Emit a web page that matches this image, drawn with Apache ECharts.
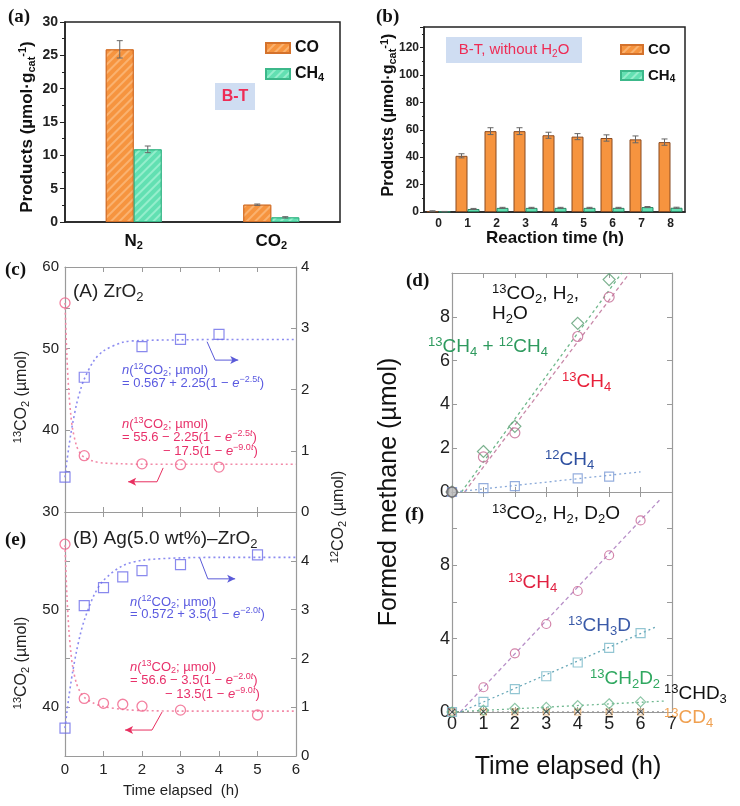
<!DOCTYPE html>
<html><head><meta charset="utf-8">
<script src="https://cdn.jsdelivr.net/npm/echarts@6/dist/echarts.min.js"></script>
<style>html,body{margin:0;padding:0;background:#fff}#c{width:740px;height:806px}#err{position:absolute;left:0;top:0;font:12px monospace;color:red;white-space:pre-wrap;width:740px}</style>
</head><body><div id="c"></div><div id="err"></div><script>
// ---------- data ----------
// (a)
const aCats = ['N2', 'CO2'];
const aCO = [25.9, 2.6];
const aCOErr = [1.3, 0.1];
const aCH4 = [10.9, 0.7];
const aCH4Err = [0.5, 0.1];
// (b)
const bCats = ['0', '1', '2', '3', '4', '5', '6', '7', '8'];
const bCO = [0.6, 41, 59, 59, 56, 55, 54, 53, 51];
const bCOErr = [0.3, 1.5, 2.5, 2.5, 2.2, 2.2, 2.3, 2.5, 2.3];
const bCH4 = [0.3, 2.2, 3.0, 3.0, 3.0, 3.0, 3.0, 3.6, 3.1];
const bCH4Err = [0.1, 0.4, 0.4, 0.4, 0.4, 0.4, 0.4, 0.4, 0.4];
// (c) ZrO2
const cT = [0, 0.5, 2, 3, 4];
const c13CO2 = [55.6, 36.9, 35.9, 35.8, 35.5];
const c12CO2 = [0.57, 2.2, 2.7, 2.82, 2.9];
const cFitT = [0, 0.05, 0.1, 0.15, 0.2, 0.3, 0.4, 0.5, 0.75, 1, 1.5, 2, 3, 4, 6];
const cFit13 = [55.6, 49.0, 44.7, 41.9, 40.1, 38.1, 37.15, 36.7, 36.2, 36.0, 35.9, 35.85, 35.85, 35.85, 35.85];
const cFit12 = [0.567, 0.83, 1.06, 1.27, 1.45, 1.76, 1.99, 2.17, 2.47, 2.63, 2.77, 2.8, 2.81, 2.817, 2.817];
const cArrow12 = [[3.69, 2.78], [3.9, 2.48], [4.5, 2.48]];
const cArrow13 = [[2.55, 35.4], [2.39, 33.7], [1.64, 33.7]];
// (e) Ag(5.0 wt%)-ZrO2
const eT = [0, 0.5, 1, 1.5, 2, 3, 5];
const e13CO2 = [56.7, 40.9, 40.4, 40.3, 40.1, 39.7, 39.2];
const e12CO2 = [0.57, 3.08, 3.45, 3.67, 3.8, 3.92, 4.12];
const eFitT = [0, 0.05, 0.1, 0.15, 0.2, 0.3, 0.4, 0.5, 0.75, 1, 1.5, 2, 3, 4, 6];
const eFit13 = [56.6, 51.4, 47.97, 45.7, 44.15, 42.4, 41.54, 41.0, 40.4, 40.07, 39.77, 39.66, 39.6, 39.6, 39.6];
const eFit12 = [0.572, 0.905, 1.21, 1.48, 1.73, 2.15, 2.5, 2.78, 3.29, 3.6, 3.9, 4.01, 4.06, 4.07, 4.07];
const eArrow12 = [[3.5, 4.06], [3.71, 3.63], [4.42, 3.63]];
const eArrow13 = [[2.52, 39.5], [2.26, 37.66], [1.56, 37.66]];
// (d) 13CO2, H2, H2O
const dT = [0, 1, 2, 4, 5];
const dTotal = [0, 1.85, 3.0, 7.7, 9.7];
const d13CH4 = [0, 1.6, 2.7, 7.1, 8.9];
const d12CH4 = [0, 0.18, 0.27, 0.62, 0.7];
const dFitTotal = [[0.3, 0], [5.4, 10]];
const dFit13 = [[0.4, 0], [5.65, 10]];
const dFit12 = [[0.1, 0], [6, 0.92]];
// (f) 13CO2, H2, D2O
const fT = [0, 1, 2, 3, 4, 5, 6];
const f13CH4 = [0, 1.35, 3.2, 4.8, 6.6, 8.55, 10.45];
const f13CH3D = [0, 0.55, 1.25, 1.95, 2.7, 3.5, 4.3];
const f13CH2D2 = [0, 0.1, 0.2, 0.25, 0.35, 0.45, 0.55];
const f13CHD3 = [0, 0.02, 0.02, 0.02, 0.02, 0.02, 0.02];
const f13CD4 = [0, 0, 0, 0, 0, 0, 0];
const fFit13CH4 = [[0.26, 0], [6.6, 11.55]];
const fFit13CH3D = [[0.27, 0], [6.5, 4.65]];
const fFit13CH2D2 = [[0, 0], [6.8, 0.6]];
const fFit13CHD3 = [[0, 0], [6.8, 0.01]];

// ---------- helpers ----------
const FONT = '"Liberation Sans", Arial, Helvetica, sans-serif';
const SERIF = '"Liberation Serif", "Times New Roman", serif';
const zip = (xs, ys) => xs.map((x, i) => [x, ys[i]]);

function richSet(size, color, weight) {
  const base = {fontFamily: FONT, fontWeight: weight || 'normal', color: color, fill: color};
  const s = Math.max(8, Math.round(size * 0.66));
  return {
    n: Object.assign({}, base, {fontSize: size, lineHeight: Math.round(size * 1.2)}),
    i: Object.assign({}, base, {fontSize: size, lineHeight: Math.round(size * 1.2), fontStyle: 'italic'}),
    p: Object.assign({}, base, {fontSize: s, lineHeight: Math.round(size * 0.6), verticalAlign: 'top'}),
    pi: Object.assign({}, base, {fontSize: s, lineHeight: Math.round(size * 0.6), verticalAlign: 'top', fontStyle: 'italic'}),
    b: Object.assign({}, base, {fontSize: s, lineHeight: Math.round(size * 0.6), verticalAlign: 'bottom'})
  };
}
function T(x, y, text, size, color, opts) {
  opts = opts || {};
  const al = opts.align || 'left';
  return {
    type: 'text', x: x, y: y, rotation: opts.rot || 0, z: 100,
    style: {
      text: text, rich: richSet(size, color, opts.weight),
      fill: color, fontSize: size, fontFamily: opts.family || FONT, fontWeight: opts.weight || 'normal',
      align: al, verticalAlign: 'middle', textAlign: al, textVerticalAlign: 'middle'
    }
  };
}
function errBars(offset) {
  return function (params, api) {
    const x = api.value(0), v = api.value(1), e = api.value(2);
    const top = api.coord([x, v + e]), bot = api.coord([x, v - e]);
    const cx = top[0] + offset;
    const st = {stroke: '#666', lineWidth: 1};
    return {type: 'group', children: [
      {type: 'line', shape: {x1: cx, y1: top[1], x2: cx, y2: bot[1]}, style: st},
      {type: 'line', shape: {x1: cx - 3, y1: top[1], x2: cx + 3, y2: top[1]}, style: st},
      {type: 'line', shape: {x1: cx - 3, y1: bot[1], x2: cx + 3, y2: bot[1]}, style: st}
    ]};
  };
}
// arrow annotation as a line series; last point carries an arrow head
function arrow(xi, yi, pts, color, rot) {
  return {type: 'line', xAxisIndex: xi, yAxisIndex: yi, symbol: 'none', z: 6,
    data: pts.map((p, i) => i === pts.length - 1 ? {value: p, symbol: 'arrow', symbolSize: [6, 8], symbolRotate: rot, itemStyle: {color: color}} : {value: p}),
    lineStyle: {color: color, width: 1}};
}

const GRAY = '#9a9a9a';
function valAxis(grid, min, max, interval, opts) {
  opts = opts || {};
  return Object.assign({
    type: 'value', gridIndex: grid, min: min, max: max, interval: interval,
    axisLine: {show: true, onZero: false, lineStyle: {color: GRAY, width: 1.2}},
    axisTick: {show: true, inside: true, length: 5, lineStyle: {color: GRAY}},
    splitLine: {show: false},
    axisLabel: {show: false}
  }, opts);
}
function lbl(size, fmt, margin) {
  const o = {show: true, fontSize: size, color: '#222', fontFamily: FONT, margin: margin || 5};
  if (fmt) o.formatter = fmt;
  return o;
}

const CO_C = '#f6943f', CO_B = '#d4722c', CH_C = '#62e0b2', CH_B = '#3cb88a';
const hatchO = {symbol: 'rect', symbolSize: 1, dashArrayX: [1, 0], dashArrayY: [2, 4], rotation: -Math.PI / 4, color: 'rgba(255,215,170,0.45)'};
const hatchG = {symbol: 'rect', symbolSize: 1, dashArrayX: [1, 0], dashArrayY: [2, 4], rotation: -Math.PI / 4, color: 'rgba(210,255,235,0.45)'};
const hollow = (c, w) => ({color: 'rgba(255,255,255,0)', borderColor: c, borderWidth: w || 1.2});

const bold16 = richSet(16, '#111', 'bold');

// axis index map: x: 0 a, 1 b, 2 c, 3 c-top, 4 e, 5 e-top, 6 d, 7 d-top, 8 f, 9 f-top
//                 y: 0 a, 1 b, 2 c-left, 3 c-right, 4 e-left, 5 e-right, 6 d, 7 d-right, 8 f, 9 f-right
const option = {
  animation: false,
  backgroundColor: '#fff',
  grid: [
    {left: 65, top: 22, width: 275, height: 200, show: true, borderColor: '#222', borderWidth: 1.5},
    {left: 424, top: 27, width: 261, height: 185, show: true, borderColor: '#222', borderWidth: 1.5},
    {left: 65, top: 267, width: 231, height: 245},
    {left: 65, top: 512, width: 231, height: 244},
    {left: 452, top: 273, width: 220, height: 219},
    {left: 452, top: 492, width: 220, height: 220}
  ],
  legend: [
    {data: ['CO', 'CH4'], orient: 'vertical', left: 260, top: 35, itemWidth: 24, itemHeight: 10, itemGap: 10,
      icon: 'rect', formatter: n => n === 'CH4' ? '{n|CH}{b|4}' : '{n|CO}',
      textStyle: {rich: bold16, fontSize: 16, fontWeight: 'bold'}},
    {data: ['CO', 'CH4'], orient: 'vertical', left: 615, top: 37, itemWidth: 22, itemHeight: 9, itemGap: 11,
      icon: 'rect', formatter: n => n === 'CH4' ? '{n|CH}{b|4}' : '{n|CO}',
      textStyle: {rich: richSet(15, '#111', 'bold'), fontSize: 15, fontWeight: 'bold'}}
  ],
  xAxis: [
    {type: 'category', gridIndex: 0, data: aCats,
      axisLine: {onZero: false, lineStyle: {color: '#222', width: 1.5}},
      axisTick: {alignWithLabel: true, length: 4, lineStyle: {color: '#222'}},
      axisLabel: {margin: 9, formatter: v => v === 'N2' ? '{n|N}{b|2}' : '{n|CO}{b|2}', rich: richSet(17, '#111', 'bold')}},
    {type: 'category', gridIndex: 1, data: bCats,
      axisLine: {onZero: false, lineStyle: {color: '#222', width: 1.5}},
      axisTick: {alignWithLabel: true, length: 4, lineStyle: {color: '#222'}},
      axisLabel: {margin: 6, fontSize: 12, fontWeight: 'bold', color: '#222', fontFamily: FONT}},
    valAxis(2, 0, 6, 1),
    valAxis(2, 0, 6, 1, {position: 'top'}),
    valAxis(3, 0, 6, 1, {axisLabel: lbl(15, null, 6)}),
    valAxis(3, 0, 6, 1, {position: 'top'}),
    valAxis(4, 0, 7, 1),
    valAxis(4, 0, 7, 1, {position: 'top'}),
    valAxis(5, 0, 7, 1, {axisLabel: lbl(18, null, 3)}),
    valAxis(5, 0, 7, 1, {position: 'top'})
  ],
  yAxis: [
    {type: 'value', gridIndex: 0, min: 0, max: 30, interval: 5,
      axisLine: {show: true, onZero: false, lineStyle: {color: '#222', width: 1.5}},
      axisTick: {show: true, length: 5, lineStyle: {color: '#222'}},
      minorTick: {show: true, splitNumber: 2, length: 3, lineStyle: {color: '#222'}},
      splitLine: {show: false},
      axisLabel: {fontSize: 14, fontWeight: 'bold', color: '#222', fontFamily: FONT, margin: 7}},
    {type: 'value', gridIndex: 1, min: 0, max: 135, interval: 20,
      axisLine: {show: true, onZero: false, lineStyle: {color: '#222', width: 1.5}},
      axisTick: {show: true, length: 4, lineStyle: {color: '#222'}},
      minorTick: {show: true, splitNumber: 2, length: 2, lineStyle: {color: '#222'}},
      splitLine: {show: false},
      axisLabel: {fontSize: 12, fontWeight: 'bold', color: '#222', fontFamily: FONT, margin: 5, showMaxLabel: false}},
    valAxis(2, 30, 60, 5, {axisLabel: lbl(15, v => v % 10 === 0 ? String(v) : '', 6)}),
    valAxis(2, 0, 4, 1, {position: 'right', axisLabel: lbl(15, null, 5)}),
    valAxis(3, 35, 60, 5, {axisLabel: lbl(15, v => (v % 10 === 0 && v < 60) ? String(v) : '', 6)}),
    valAxis(3, 0, 5, 1, {position: 'right', axisLabel: lbl(15, v => v < 5 ? String(v) : '', 5)}),
    valAxis(4, 0, 10, 2, {axisLabel: lbl(18, v => v < 10 ? String(v) : '', 2)}),
    valAxis(4, 0, 10, 2, {position: 'right'}),
    valAxis(5, 0, 12, 2, {axisLabel: lbl(18, v => (v % 4 === 0 && v < 12) ? String(v) : '', 2)}),
    valAxis(5, 0, 12, 2, {position: 'right'})
  ],
  series: [
    // (a)
    {name: 'CO', type: 'bar', xAxisIndex: 0, yAxisIndex: 0, data: aCO, barWidth: 28, barGap: '0%',
      itemStyle: {color: CO_C, borderColor: CO_B, borderWidth: 1, decal: hatchO}},
    {name: 'CH4', type: 'bar', xAxisIndex: 0, yAxisIndex: 0, data: aCH4, barWidth: 28, barGap: '0%',
      itemStyle: {color: CH_C, borderColor: CH_B, borderWidth: 1, decal: hatchG}},
    {type: 'custom', xAxisIndex: 0, yAxisIndex: 0, renderItem: errBars(-14), data: aCO.map((v, i) => [i, v, aCOErr[i]]), z: 5},
    {type: 'custom', xAxisIndex: 0, yAxisIndex: 0, renderItem: errBars(14), data: aCH4.map((v, i) => [i, v, aCH4Err[i]]), z: 5},
    // (b)
    {name: 'CO', type: 'bar', xAxisIndex: 1, yAxisIndex: 1, data: bCO, barWidth: 12, barGap: '0%',
      itemStyle: {color: CO_C, borderColor: '#8a4a20', borderWidth: 1}},
    {name: 'CH4', type: 'bar', xAxisIndex: 1, yAxisIndex: 1, data: bCH4, barWidth: 12, barGap: '0%',
      itemStyle: {color: CH_C, borderColor: '#2a8a66', borderWidth: 1}},
    {type: 'custom', xAxisIndex: 1, yAxisIndex: 1, renderItem: errBars(-6), data: bCO.map((v, i) => [i, v, bCOErr[i]]), z: 5},
    {type: 'custom', xAxisIndex: 1, yAxisIndex: 1, renderItem: errBars(6), data: bCH4.map((v, i) => [i, v, bCH4Err[i]]), z: 5},
    // (c)
    {type: 'line', xAxisIndex: 2, yAxisIndex: 2, data: zip(cFitT, cFit13), showSymbol: false, smooth: 0.3,
      lineStyle: {color: '#f28aa8', width: 1.6, type: [2, 3]}},
    {type: 'line', xAxisIndex: 2, yAxisIndex: 3, data: zip(cFitT, cFit12), showSymbol: false, smooth: 0.3,
      lineStyle: {color: '#8c8cf0', width: 1.6, type: [2, 3]}},
    {type: 'scatter', xAxisIndex: 2, yAxisIndex: 2, data: zip(cT, c13CO2), symbol: 'circle', symbolSize: 10, itemStyle: hollow('#f06088', 1.3), z: 4},
    {type: 'scatter', xAxisIndex: 2, yAxisIndex: 3, data: zip(cT, c12CO2), symbol: 'rect', symbolSize: 10, itemStyle: hollow('#6b6be8', 1.2), z: 4},
    arrow(2, 3, cArrow12, '#5a5ad8', -90),
    arrow(2, 2, cArrow13, '#e83060', 90),
    // (e)
    {type: 'line', xAxisIndex: 4, yAxisIndex: 4, data: zip(eFitT, eFit13), showSymbol: false, smooth: 0.3,
      lineStyle: {color: '#f28aa8', width: 1.6, type: [2, 3]}},
    {type: 'line', xAxisIndex: 4, yAxisIndex: 5, data: zip(eFitT, eFit12), showSymbol: false, smooth: 0.3,
      lineStyle: {color: '#8c8cf0', width: 1.6, type: [2, 3]}},
    {type: 'scatter', xAxisIndex: 4, yAxisIndex: 4, data: zip(eT, e13CO2), symbol: 'circle', symbolSize: 10, itemStyle: hollow('#f06088', 1.3), z: 4},
    {type: 'scatter', xAxisIndex: 4, yAxisIndex: 5, data: zip(eT, e12CO2), symbol: 'rect', symbolSize: 10, itemStyle: hollow('#6b6be8', 1.2), z: 4},
    arrow(4, 5, eArrow12, '#5a5ad8', -90),
    arrow(4, 4, eArrow13, '#e83060', 90),
    // (d)
    {type: 'line', xAxisIndex: 6, yAxisIndex: 6, data: dFitTotal, showSymbol: false, lineStyle: {color: '#70b88c', width: 1.3, type: [3, 3]}},
    {type: 'line', xAxisIndex: 6, yAxisIndex: 6, data: dFit13, showSymbol: false, lineStyle: {color: '#c888a8', width: 1.3, type: [4, 3]}},
    {type: 'line', xAxisIndex: 6, yAxisIndex: 6, data: dFit12, showSymbol: false, lineStyle: {color: '#88a8d8', width: 1.3, type: [2, 3]}},
    {type: 'scatter', xAxisIndex: 6, yAxisIndex: 6, data: zip(dT, dTotal), symbol: 'diamond', symbolSize: 12, itemStyle: hollow('#5a9e72', 1.2), z: 4},
    {type: 'scatter', xAxisIndex: 6, yAxisIndex: 6, data: zip(dT, d13CH4), symbol: 'circle', symbolSize: 10, itemStyle: hollow('#c46a94', 1.2), z: 4},
    {type: 'scatter', xAxisIndex: 6, yAxisIndex: 6, data: zip(dT, d12CH4), symbol: 'rect', symbolSize: 9, itemStyle: hollow('#7a9ad4', 1.2), z: 4},
    {type: 'scatter', xAxisIndex: 6, yAxisIndex: 6, data: [[dT[0], dTotal[0]]], symbol: 'circle', symbolSize: 10, itemStyle: {color: '#b8b8b8', borderColor: '#666', borderWidth: 1.5}, z: 6},
    // (f)
    {type: 'line', xAxisIndex: 8, yAxisIndex: 8, data: fFit13CH4, showSymbol: false, lineStyle: {color: '#b890c8', width: 1.3, type: [4, 3]}},
    {type: 'line', xAxisIndex: 8, yAxisIndex: 8, data: fFit13CH3D, showSymbol: false, lineStyle: {color: '#68a8b8', width: 1.3, type: [2, 3]}},
    {type: 'line', xAxisIndex: 8, yAxisIndex: 8, data: fFit13CH2D2, showSymbol: false, lineStyle: {color: '#70b890', width: 1.3, type: [2, 3]}},
    {type: 'line', xAxisIndex: 8, yAxisIndex: 8, data: fFit13CHD3, showSymbol: false, lineStyle: {color: '#888', width: 1, type: [2, 3]}},
    {type: 'scatter', xAxisIndex: 8, yAxisIndex: 8, data: zip(fT, f13CD4), symbol: 'rect', symbolSize: 6, itemStyle: hollow('#e8b070', 1.2), z: 3},
    {type: 'scatter', xAxisIndex: 8, yAxisIndex: 8, data: zip(fT, f13CH4), symbol: 'circle', symbolSize: 9, itemStyle: hollow('#c86494', 1.2), z: 4},
    {type: 'scatter', xAxisIndex: 8, yAxisIndex: 8, data: zip(fT, f13CH3D), symbol: 'rect', symbolSize: 9, itemStyle: hollow('#78b8c8', 1.2), z: 4},
    {type: 'scatter', xAxisIndex: 8, yAxisIndex: 8, data: zip(fT, f13CH2D2), symbol: 'diamond', symbolSize: 10, itemStyle: hollow('#70b890', 1.2), z: 4},
    {type: 'scatter', xAxisIndex: 8, yAxisIndex: 8, data: zip(fT, f13CHD3), symbol: 'path://M0,1L1,0L5,4L9,0L10,1L6,5L10,9L9,10L5,6L1,10L0,9L4,5Z', symbolSize: 7, itemStyle: {color: '#333'}, z: 5}
  ],
  graphic: [
    T(8, 17, '(a)', 19, '#111', {weight: 'bold', family: SERIF}),
    T(376, 17, '(b)', 19, '#111', {weight: 'bold', family: SERIF}),
    T(5, 270, '(c)', 19, '#111', {weight: 'bold', family: SERIF}),
    T(5, 540, '(e)', 19, '#111', {weight: 'bold', family: SERIF}),
    T(406, 281, '(d)', 19, '#111', {weight: 'bold', family: SERIF}),
    T(405, 515, '(f)', 19, '#111', {weight: 'bold', family: SERIF}),
    {type: 'rect', shape: {x: 215, y: 83, width: 40, height: 27}, style: {fill: '#cfddf2'}, z: 1},
    T(235, 97, '{n|B-T}', 16, '#ee2c55', {weight: 'bold', align: 'center'}),
    T(27, 127, '{n|Products (µmol·g}{b|cat}{p|-1}{n|)}', 17, '#111', {weight: 'bold', align: 'center', rot: Math.PI / 2}),
    {type: 'rect', shape: {x: 446, y: 37, width: 136, height: 26}, style: {fill: '#cfddf2'}, z: 1},
    T(514, 50, '{n|B-T, without H}{b|2}{n|O}', 15, '#ee2c55', {align: 'center'}),
    T(389, 115, '{n|Products (µmol·g}{b|cat}{p|-1}{n|)}', 16, '#111', {weight: 'bold', align: 'center', rot: Math.PI / 2}),
    T(555, 238, '{n|Reaction time (h)}', 17, '#111', {weight: 'bold', align: 'center'}),
    T(73, 292, '{n|(A) ZrO}{b|2}', 19, '#222'),
    T(122, 370, '{i|n}{n|(}{p|12}{n|CO}{b|2}{n|; µmol)}', 13, '#5a5ae0'),
    T(122, 383, '{n|= 0.567 + 2.25(1 − }{i|e}{p|−2.5}{pi|t}{n|)}', 13, '#5a5ae0'),
    T(122, 424, '{i|n}{n|(}{p|13}{n|CO}{b|2}{n|; µmol)}', 13, '#e8306a'),
    T(122, 437, '{n|= 55.6 − 2.25(1 − }{i|e}{p|−2.5}{pi|t}{n|)}', 13, '#e8306a'),
    T(163, 451, '{n|− 17.5(1 − }{i|e}{p|−9.0}{pi|t}{n|)}', 13, '#e8306a'),
    T(22, 397, '{p|13}{n|CO}{b|2}{n| (µmol)}', 16, '#222', {align: 'center', rot: Math.PI / 2}),
    T(22, 663, '{p|13}{n|CO}{b|2}{n| (µmol)}', 16, '#222', {align: 'center', rot: Math.PI / 2}),
    T(339, 517, '{p|12}{n|CO}{b|2}{n| (µmol)}', 16, '#222', {align: 'center', rot: Math.PI / 2}),
    T(73, 539, '{n|(B) Ag(5.0 wt%)–ZrO}{b|2}', 19, '#222'),
    T(130, 602, '{i|n}{n|(}{p|12}{n|CO}{b|2}{n|; µmol)}', 13, '#5a5ae0'),
    T(130, 614, '{n|= 0.572 + 3.5(1 − }{i|e}{p|−2.0}{pi|t}{n|)}', 13, '#5a5ae0'),
    T(130, 667, '{i|n}{n|(}{p|13}{n|CO}{b|2}{n|; µmol)}', 13, '#e8306a'),
    T(130, 680, '{n|= 56.6 − 3.5(1 − }{i|e}{p|−2.0}{pi|t}{n|)}', 13, '#e8306a'),
    T(165, 694, '{n|− 13.5(1 − }{i|e}{p|−9.0}{pi|t}{n|)}', 13, '#e8306a'),
    T(181, 791, '{n|Time elapsed  (h)}', 15, '#222', {align: 'center'}),
    T(492, 294, '{p|13}{n|CO}{b|2}{n|, H}{b|2}{n|,}', 19, '#111'),
    T(492, 314, '{n|H}{b|2}{n|O}', 19, '#111'),
    T(428, 347, '{p|13}{n|CH}{b|4}{n| + }{p|12}{n|CH}{b|4}', 19, '#2e9a5e'),
    T(562, 382, '{p|13}{n|CH}{b|4}', 19, '#e8203a'),
    T(545, 460, '{p|12}{n|CH}{b|4}', 19, '#2d4fa0'),
    T(492, 514, '{p|13}{n|CO}{b|2}{n|, H}{b|2}{n|, D}{b|2}{n|O}', 19, '#111'),
    T(508, 583, '{p|13}{n|CH}{b|4}', 19, '#e02040'),
    T(568, 626, '{p|13}{n|CH}{b|3}{n|D}', 19, '#3a5aa8'),
    T(590, 679, '{p|13}{n|CH}{b|2}{n|D}{b|2}', 19, '#30a860'),
    T(664, 694, '{p|13}{n|CHD}{b|3}', 19, '#111'),
    T(664, 718, '{p|13}{n|CD}{b|4}', 19, '#f0a050'),
    T(389, 492, '{n|Formed methane (µmol)}', 25, '#111', {align: 'center', rot: Math.PI / 2}),
    T(568, 767, '{n|Time elapsed (h)}', 25, '#111', {align: 'center'})
  ]
};

try {
  const chart = echarts.init(document.getElementById('c'), null, {renderer: 'canvas'});
  chart.setOption(option);
} catch (err) {
  document.getElementById('err').textContent = String(err && err.stack || err);
}
</script></body></html>
